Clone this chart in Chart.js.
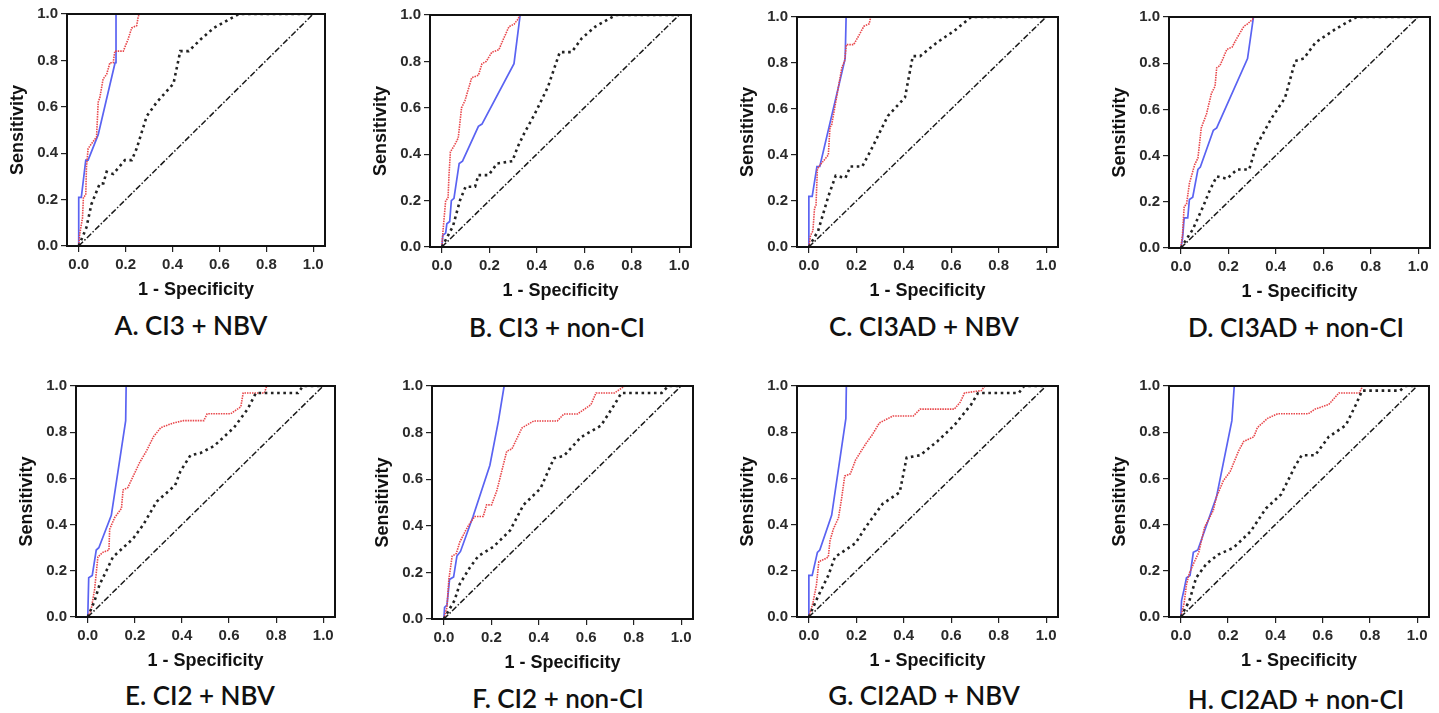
<!DOCTYPE html>
<html>
<head>
<meta charset="utf-8">
<title>ROC curves</title>
<script src="https://cdn.jsdelivr.net/npm/chart.js@4.4.1/dist/chart.umd.min.js"></script>
<style>
  html, body { margin: 0; padding: 0; background: #fff; overflow: hidden; }
  body { width: 1439px; height: 713px; position: relative; }
  canvas { position: absolute; }
  .caption {
    position: absolute;
    transform: translate(-50%, -50%);
    font-family: Lato, "Open Sans", sans-serif;
    font-size: 26px;
    font-weight: 600;
    color: #111;
    white-space: nowrap;
  }
</style>
</head>
<body>
<script>
/* ===========================
   Data
   =========================== */

const xTicks = [0, 0.2, 0.4, 0.6, 0.8, 1.0];
const yTicks = [0, 0.2, 0.4, 0.6, 0.8, 1.0];

const captions = [
  "A. CI3 + NBV", "B. CI3 + non-CI", "C. CI3AD + NBV", "D. CI3AD + non-CI",
  "E. CI2 + NBV", "F. CI2 + non-CI", "G. CI2AD + NBV", "H. CI2AD + non-CI"
];

// reference line
const diagonal = [[0, 0], [1, 1]];

// A. CI3 + NBV
const blueA = [[0,0],[0,0.21],[0.011,0.21],[0.03,0.37],[0.04,0.37],[0.083,0.48],[0.155,0.79],[0.159,0.79],[0.159,1],[1,1]];
const redA = [[0,0],[0.004,0.05],[0.016,0.12],[0.02,0.21],[0.03,0.22],[0.033,0.34],[0.04,0.42],[0.054,0.44],[0.076,0.47],[0.083,0.62],[0.09,0.64],[0.104,0.72],[0.119,0.74],[0.133,0.79],[0.147,0.79],[0.154,0.84],[0.19,0.84],[0.21,0.89],[0.226,0.94],[0.247,0.95],[0.254,0.99],[0.261,1],[1,1]];
const blackA = [[0,0],[0.033,0.08],[0.054,0.18],[0.09,0.27],[0.105,0.27],[0.119,0.32],[0.147,0.31],[0.197,0.37],[0.226,0.37],[0.247,0.42],[0.29,0.56],[0.333,0.62],[0.404,0.70],[0.433,0.84],[0.469,0.84],[0.519,0.89],[0.576,0.94],[0.647,0.98],[0.683,1],[1,1]];

// B. CI3 + non-CI
const blueB = [[0,0],[0.004,0.05],[0.016,0.06],[0.021,0.10],[0.033,0.11],[0.04,0.20],[0.051,0.21],[0.073,0.36],[0.087,0.37],[0.154,0.52],[0.169,0.53],[0.304,0.79],[0.33,1],[1,1]];
const redB = [[0,0],[0.004,0.06],[0.016,0.20],[0.026,0.21],[0.03,0.31],[0.036,0.41],[0.054,0.44],[0.069,0.47],[0.083,0.60],[0.097,0.63],[0.126,0.73],[0.154,0.74],[0.169,0.79],[0.187,0.80],[0.211,0.84],[0.24,0.85],[0.261,0.90],[0.283,0.95],[0.304,0.96],[0.319,0.98],[0.33,1],[1,1]];
const blackB = [[0,0],[0.047,0.09],[0.076,0.2],[0.10,0.26],[0.14,0.26],[0.154,0.31],[0.197,0.31],[0.233,0.36],[0.297,0.37],[0.319,0.43],[0.347,0.49],[0.39,0.57],[0.447,0.69],[0.497,0.84],[0.547,0.84],[0.59,0.9],[0.647,0.95],[0.733,1],[1,1]];

// C. CI3AD + NBV
const blueC = [[0,0],[0,0.22],[0.014,0.22],[0.034,0.35],[0.046,0.35],[0.153,0.82],[0.157,1],[1,1]];
const redC = [[0,0],[0.007,0.05],[0.017,0.07],[0.024,0.17],[0.03,0.18],[0.036,0.34],[0.05,0.36],[0.082,0.40],[0.089,0.52],[0.096,0.53],[0.139,0.78],[0.151,0.81],[0.158,0.88],[0.189,0.88],[0.211,0.92],[0.232,0.96],[0.254,0.97],[0.261,1],[1,1]];
const blackC = [[0,0],[0.039,0.07],[0.082,0.22],[0.113,0.31],[0.154,0.30],[0.175,0.35],[0.225,0.35],[0.261,0.42],[0.333,0.57],[0.405,0.65],[0.438,0.83],[0.469,0.83],[0.541,0.89],[0.613,0.94],[0.684,1],[1,1]];

// D. CI3AD + non-CI
const blueD = [[0,0],[0.007,0.04],[0.014,0.13],[0.029,0.13],[0.036,0.21],[0.05,0.22],[0.072,0.34],[0.082,0.35],[0.137,0.51],[0.151,0.52],[0.281,0.82],[0.306,1],[1,1]];
const redD = [[0,0],[0.007,0.06],[0.014,0.18],[0.024,0.19],[0.036,0.28],[0.058,0.36],[0.072,0.39],[0.086,0.52],[0.108,0.58],[0.129,0.67],[0.144,0.70],[0.151,0.78],[0.165,0.79],[0.194,0.86],[0.216,0.87],[0.237,0.91],[0.266,0.96],[0.281,0.97],[0.302,0.99],[0.306,1],[1,1]];
const blackD = [[0,0],[0.05,0.08],[0.094,0.18],[0.122,0.25],[0.151,0.31],[0.194,0.30],[0.237,0.34],[0.288,0.34],[0.317,0.44],[0.381,0.56],[0.439,0.65],[0.482,0.81],[0.518,0.82],[0.568,0.89],[0.655,0.95],[0.741,1],[1,1]];

// E. CI2 + NBV
const blueE = [[0,0],[0.004,0.17],[0.019,0.18],[0.036,0.29],[0.047,0.30],[0.1,0.44],[0.161,0.85],[0.163,1],[1,1]];
const redE = [[0,0],[0.014,0.03],[0.029,0.12],[0.043,0.26],[0.064,0.28],[0.09,0.29],[0.093,0.38],[0.114,0.43],[0.143,0.47],[0.15,0.55],[0.17,0.56],[0.221,0.67],[0.25,0.72],[0.279,0.78],[0.31,0.82],[0.364,0.84],[0.407,0.85],[0.493,0.85],[0.507,0.88],[0.607,0.88],[0.65,0.91],[0.66,0.97],[0.75,0.97],[0.76,1],[1,1]];
const blackE = [[0,0],[0.029,0.07],[0.05,0.14],[0.079,0.2],[0.107,0.26],[0.129,0.28],[0.193,0.34],[0.236,0.4],[0.293,0.5],[0.371,0.57],[0.393,0.63],[0.436,0.70],[0.479,0.71],[0.536,0.74],[0.621,0.82],[0.679,0.9],[0.714,0.97],[0.893,0.97],[0.914,1],[1,1]];

// F. CI2 + non-CI
const blueF = [[0,0],[0.003,0.05],[0.013,0.06],[0.024,0.17],[0.041,0.18],[0.055,0.27],[0.07,0.29],[0.123,0.44],[0.194,0.66],[0.23,0.85],[0.254,1],[1,1]];
const redF = [[0,0],[0.013,0.05],[0.021,0.17],[0.035,0.27],[0.052,0.28],[0.067,0.33],[0.092,0.38],[0.109,0.41],[0.13,0.44],[0.166,0.44],[0.18,0.49],[0.201,0.49],[0.223,0.55],[0.265,0.72],[0.287,0.73],[0.329,0.82],[0.379,0.85],[0.478,0.85],[0.506,0.88],[0.563,0.88],[0.62,0.92],[0.641,0.97],[0.719,0.97],[0.762,1],[1,1]];
const blackF = [[0,0],[0.045,0.08],[0.067,0.15],[0.109,0.22],[0.145,0.27],[0.209,0.31],[0.279,0.38],[0.336,0.49],[0.407,0.56],[0.464,0.69],[0.506,0.70],[0.577,0.78],[0.662,0.83],[0.719,0.92],[0.748,0.97],[0.918,0.97],[0.946,1],[1,1]];

// G. CI2AD + NBV
const blueG = [[0,0],[0,0.18],[0.014,0.18],[0.036,0.28],[0.046,0.29],[0.096,0.44],[0.156,0.86],[0.158,1],[1,1]];
const redG = [[0,0],[0.017,0.06],[0.032,0.14],[0.042,0.24],[0.065,0.25],[0.082,0.26],[0.089,0.33],[0.103,0.38],[0.125,0.43],[0.139,0.52],[0.151,0.61],[0.175,0.62],[0.197,0.68],[0.24,0.75],[0.268,0.79],[0.297,0.84],[0.354,0.87],[0.44,0.87],[0.469,0.90],[0.613,0.90],[0.638,0.93],[0.656,0.97],[0.727,0.98],[0.742,1],[1,1]];
const blackG = [[0,0],[0.039,0.09],[0.082,0.18],[0.11,0.26],[0.154,0.29],[0.197,0.32],[0.24,0.39],[0.311,0.49],[0.383,0.54],[0.412,0.69],[0.469,0.70],[0.541,0.76],[0.613,0.83],[0.684,0.92],[0.713,0.97],[0.885,0.97],[0.907,1],[1,1]];

// H. CI2AD + non-CI
const blueH = [[0,0],[0.003,0.07],[0.014,0.12],[0.024,0.17],[0.039,0.18],[0.053,0.28],[0.072,0.29],[0.151,0.52],[0.216,0.85],[0.226,1],[1,1]];
const redH = [[0,0],[0.014,0.06],[0.024,0.14],[0.036,0.19],[0.058,0.24],[0.076,0.28],[0.101,0.39],[0.137,0.46],[0.151,0.52],[0.18,0.59],[0.209,0.63],[0.245,0.72],[0.266,0.76],[0.309,0.78],[0.324,0.82],[0.367,0.86],[0.41,0.88],[0.54,0.88],[0.568,0.90],[0.626,0.92],[0.669,0.97],[0.755,0.97],[0.77,1],[1,1]];
const blackH = [[0,0],[0.036,0.07],[0.065,0.17],[0.108,0.23],[0.158,0.27],[0.223,0.30],[0.295,0.37],[0.36,0.47],[0.424,0.53],[0.482,0.65],[0.511,0.70],[0.568,0.70],[0.626,0.78],[0.698,0.83],[0.741,0.92],[0.767,0.98],[0.928,0.98],[0.95,1],[1,1]];

const blueSeries = [blueA, blueB, blueC, blueD, blueE, blueF, blueG, blueH];
const redSeries = [redA, redB, redC, redD, redE, redF, redG, redH];
const blackSeries = [blackA, blackB, blackC, blackD, blackE, blackF, blackG, blackH];

/* ===========================
   Layout (plot box of each panel, px)
   =========================== */

const boxes = [
  { left: 67,   top: 12,  w: 258, h: 234 },
  { left: 430,  top: 13,  w: 261, h: 234 },
  { left: 797,  top: 15,  w: 261, h: 232 },
  { left: 1169, top: 15,  w: 261, h: 233 },
  { left: 76,   top: 384, w: 259, h: 233 },
  { left: 432,  top: 384, w: 261, h: 235 },
  { left: 797,  top: 384, w: 261, h: 233 },
  { left: 1169, top: 384, w: 260, h: 233 }
];
const captionPos = [
  [191, 325], [557, 327], [924, 326], [1296, 327],
  [200, 695], [558, 698], [924, 695], [1296, 699]
];

const Y_AXIS_W = 70;
const X_AXIS_H = 62;
const PAD_TOP = 10;
const PAD_RIGHT = 9;

const tickFont = { family: "'Liberation Sans', Arial, sans-serif", size: 15, weight: "bold" };
const titleFont = { family: "'Liberation Sans', Arial, sans-serif", size: 18, weight: "bold" };

// frame around the plot area
const framePlugin = {
  id: "frame",
  afterDatasetsDraw(chart) {
    const { ctx, chartArea: a } = chart;
    ctx.save();
    ctx.strokeStyle = "#111";
    ctx.lineWidth = 2;
    ctx.strokeRect(a.left, a.top, a.right - a.left, a.bottom - a.top);
    ctx.restore();
  }
};

const toPts = arr => arr.map(p => ({ x: p[0], y: p[1] }));

function makePanel(i) {
  const b = boxes[i];
  const canvas = document.createElement("canvas");
  const cw = b.w + Y_AXIS_W + PAD_RIGHT;
  const ch = b.h + X_AXIS_H + PAD_TOP;
  canvas.width = cw;
  canvas.height = ch;
  canvas.style.width = cw + "px";
  canvas.style.height = ch + "px";
  canvas.style.left = (b.left - Y_AXIS_W) + "px";
  canvas.style.top = (b.top - PAD_TOP) + "px";
  document.body.appendChild(canvas);

  new Chart(canvas, {
    type: "scatter",
    data: {
      datasets: [
        {
          data: toPts(diagonal),
          showLine: true,
          borderColor: "#1a1a1a",
          borderWidth: 1.5,
          borderDash: [6, 2, 1.5, 2],
          pointRadius: 0
        },
        {
          data: toPts(blackSeries[i]),
          showLine: true,
          borderColor: "#222",
          borderWidth: 2.6,
          borderDash: [2.6, 3.6],
          pointRadius: 0
        },
        {
          data: toPts(redSeries[i]),
          showLine: true,
          borderColor: "#e8464a",
          borderWidth: 1.6,
          borderDash: [1.5, 1],
          pointRadius: 0
        },
        {
          data: toPts(blueSeries[i]),
          showLine: true,
          borderColor: "#5a63f2",
          borderWidth: 1.7,
          pointRadius: 0
        }
      ]
    },
    options: {
      responsive: false,
      animation: false,
      layout: { padding: { top: PAD_TOP, right: PAD_RIGHT, left: 0, bottom: 0 } },
      plugins: { legend: { display: false }, tooltip: { enabled: false } },
      scales: {
        x: {
          type: "linear",
          min: -0.05,
          max: 1.05,
          afterBuildTicks: s => { s.ticks = xTicks.map(v => ({ value: v })); },
          afterFit: s => { s.height = X_AXIS_H; },
          grid: { drawOnChartArea: false, drawTicks: true, tickLength: 6, color: "#222", lineWidth: 1.2 },
          border: { display: false },
          ticks: { font: tickFont, color: "#2a2a2a", padding: 4, maxRotation: 0, callback: v => v.toFixed(1) },
          title: { display: true, text: "1 - Specificity", font: titleFont, color: "#111", padding: { top: 0, bottom: 7 } }
        },
        y: {
          type: "linear",
          min: 0,
          max: 1,
          afterBuildTicks: s => { s.ticks = yTicks.map(v => ({ value: v })); },
          afterFit: s => { s.width = Y_AXIS_W; },
          grid: { drawOnChartArea: false, drawTicks: true, tickLength: 6, color: "#222", lineWidth: 1.2 },
          border: { display: false },
          ticks: { font: tickFont, color: "#2a2a2a", padding: 3, callback: v => v.toFixed(1) },
          title: { display: true, text: "Sensitivity", font: titleFont, color: "#111", padding: { top: 10, bottom: 0 } }
        }
      }
    },
    plugins: [framePlugin]
  });

  const cap = document.createElement("div");
  cap.className = "caption";
  cap.textContent = captions[i];
  cap.style.left = captionPos[i][0] + "px";
  cap.style.top = captionPos[i][1] + "px";
  document.body.appendChild(cap);
}

for (let i = 0; i < boxes.length; i++) makePanel(i);
</script>
</body>
</html>
